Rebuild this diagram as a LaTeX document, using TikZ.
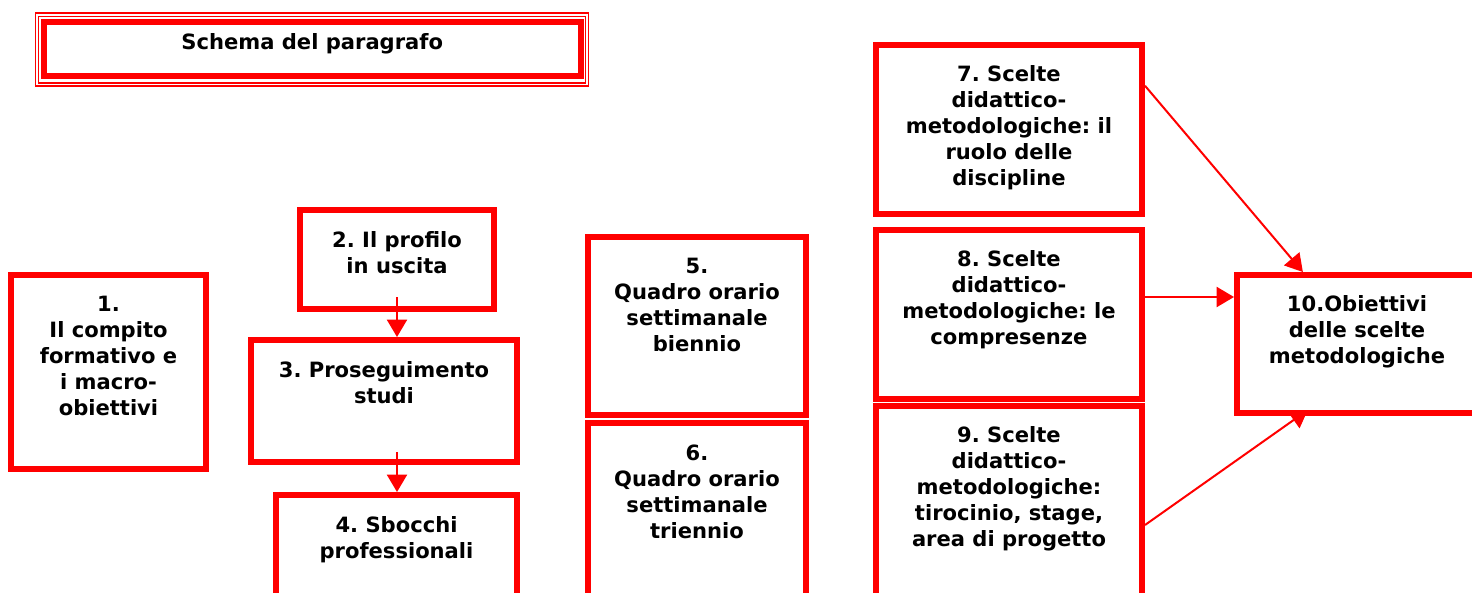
\documentclass[tikz,border=0pt]{standalone}
\usepackage{fontspec}
\setmainfont{DejaVu Sans}
\usetikzlibrary{arrows.meta,calc,fit}
\frenchspacing

\definecolor{frred}{RGB}{255,0,0}
\tikzset{every picture/.style={line width=0.75pt}}
\tikzset{
  box/.style={draw=frred, line width=4.5pt, inner sep=0pt, rectangle},
  frame/.style={draw=frred, line width=1.1pt, double=white, double distance=1.2pt},
  txt/.style={anchor=north, inner sep=0pt, align=center, font=\bfseries\fontsize{15.8}{19.5}\selectfont},
  arr/.style={draw=frred, line width=1.5pt, -{Triangle[length=13pt,width=15pt]}},
}

\begin{document}
\begin{tikzpicture}[x=0.75pt,y=0.75pt,yscale=-1,xscale=1]
  \clip (0,0) rectangle (1472,593);
  \fill[white] (0,0) rectangle (1472,593);

  %Title frame
  \draw[frame] (37.2,14.7) rectangle (587,84.5);
  \node[box, fit={(44,21.5) (580.5,76)}] (tt) {};
  \node[txt] (ttl) at ($(tt.north)+(0,14)$) {Schema del paragrafo};

  %Boxes
  \node[box, fit={(11,275) (206,469)}] (b1) {};
  \node[box, fit={(300,210) (494,309)}] (b2) {};
  \node[box, fit={(251,340) (517,462)}] (b3) {};
  \node[box, fit={(276,495) (517,620)}] (b4) {};
  \node[box, fit={(588,237) (806,415)}] (b5) {};
  \node[box, fit={(588,423) (806,620)}] (b6) {};
  \node[box, fit={(876,45) (1142,214)}] (b7) {};
  \node[box, fit={(876,230) (1142,399)}] (b8) {};
  \node[box, fit={(876,406) (1142,620)}] (b9) {};
  \node[box, fit={(1237,275) (1477,413)}] (b10) {};

  % Text Node
  \node[txt] (t1) at ($(b1.north)+(0,24)$) {1.\\Il compito\\formativo e\\i macro-\\obiettivi};
  \node[txt] (t2) at ($(b2.north)+(0,24)$) {2. Il profilo\\in uscita};
  \node[txt] (t3) at ($(b3.north)+(0,24)$) {3. Proseguimento\\studi};
  \node[txt] (t4) at ($(b4.north)+(0,24)$) {4. Sbocchi\\professionali};
  \node[txt] (t5) at ($(b5.north)+(0,24)$) {5.\\Quadro orario\\settimanale\\biennio};
  \node[txt] (t6) at ($(b6.north)+(0,24)$) {6.\\Quadro orario\\settimanale\\triennio};
  \node[txt] (t7) at ($(b7.north)+(0,23)$) {7. Scelte\\didattico-\\metodologiche: il\\ruolo delle\\discipline};
  \node[txt] (t8) at ($(b8.north)+(0,23)$) {8. Scelte\\didattico-\\metodologiche: le\\compresenze};
  \node[txt] (t9) at ($(b9.north)+(0,23)$) {9. Scelte\\didattico-\\metodologiche:\\tirocinio, stage,\\area di progetto};
  \node[txt] (t10) at ($(b10.north)+(0,23)$) {10.Obiettivi\\delle scelte\\metodologiche};

  %Arrows
  \draw[arr] ($(b2.south)+(0,-15)$) -- (b2.south |- b3.north);
  \draw[arr] ($(b2.south |- b3.south)+(0,-13)$) -- (b2.south |- b4.north);
  \coordinate (p7) at ($(b7.north east)!0.25!(b7.south east)$);
  \coordinate (p8) at ($(b8.north east)!0.4!(b8.south east)$);
  \coordinate (p9) at ($(b9.north east)+(0,122)$);
  \draw[arr] (p7) -- ($(b10.north west)!0.28!(b10.north east)$);
  \draw[arr] (p8) -- (p8 -| b10.west);
  \draw[arr] (p9) -- ($(b10.south west)!0.3!(b10.south east)+(0,-6)$);
\end{tikzpicture}
\end{document}
